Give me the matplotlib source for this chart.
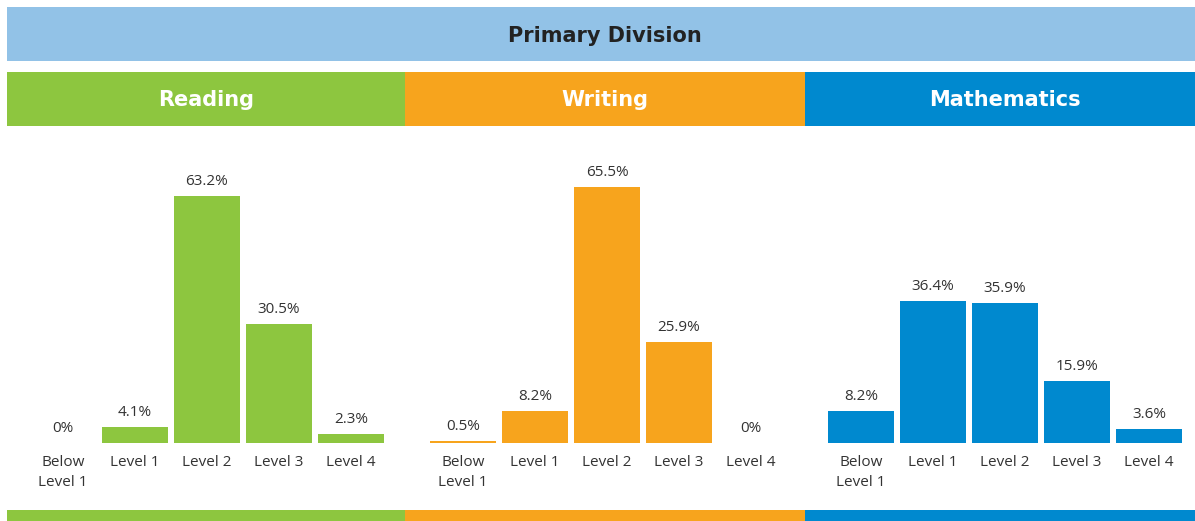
import matplotlib.pyplot as plt
from matplotlib.patches import Rectangle

levels = ["Below\nLevel 1", "Level 1", "Level 2", "Level 3", "Level 4"]
subjects = ["Reading", "Writing", "Mathematics"]
reading = [0, 4.1, 63.2, 30.5, 2.3]
writing = [0.5, 8.2, 65.5, 25.9, 0]
maths = [8.2, 36.4, 35.9, 15.9, 3.6]
values = [reading, writing, maths]
colors = ["#8dc63f", "#f7a41d", "#0089cf"]

plt.rcParams['font.family'] = ['Open Sans', 'DejaVu Sans']
W, H = 1195, 521
fig = plt.figure(figsize=(W / 100, H / 100), dpi=100)


def band(x0, y0, x1, y1, color):
    # pixel box (from top-left) -> figure rectangle
    fig.add_artist(Rectangle((x0 / W, 1 - y1 / H), (x1 - x0) / W, (y1 - y0) / H,
                             transform=fig.transFigure, color=color, lw=0))


band(7, 7, W, 61, "#92c2e7")
fig.text(605 / W, 1 - 36 / H, "Primary Division", ha="center", va="center",
         fontsize=15, fontweight="bold", color="#222222", family="DejaVu Sans")

panels = [(7, 405), (405, 805), (805, 1204)]
first_center = [63, 463, 861]
step = 72
base_y = 443
top_y = 140
px_per_pct = 3.91

for i, subj in enumerate(subjects):
    x0, x1 = panels[i]
    band(x0, 72, min(x1, W), 126, colors[i])
    band(x0, 510, min(x1, W), H, colors[i])
    fig.text(((x0 + x1) / 2 if i < 2 else 1005) / W, 1 - 100 / H, subj,
             ha="center", va="center", fontsize=15, fontweight="bold", color="white",
             family="DejaVu Sans")

    ax = fig.add_axes([x0 / W, 1 - base_y / H, (x1 - x0) / W, (base_y - top_y) / H])
    ax.set_xlim(-(first_center[i] - x0) / step, (x1 - first_center[i]) / step)
    ax.set_ylim(0, (base_y - top_y) / px_per_pct)
    xs = range(len(levels))
    ax.bar(xs, values[i], width=66 / step, color=colors[i])
    for x, v in zip(xs, values[i]):
        ax.annotate(f"{v:g}%", (x, v), xytext=(0, 5), textcoords="offset points",
                    ha="center", va="bottom", fontsize=11, color="#333333")
    ax.set_xticks(list(xs))
    ax.set_xticklabels(levels, fontsize=11, color="#333333", linespacing=1.4)
    ax.tick_params(axis="x", length=0, pad=9)
    ax.set_yticks([])
    for s in ax.spines.values():
        s.set_visible(False)
    ax.patch.set_alpha(0)

fig.savefig("out.png", dpi=100)
